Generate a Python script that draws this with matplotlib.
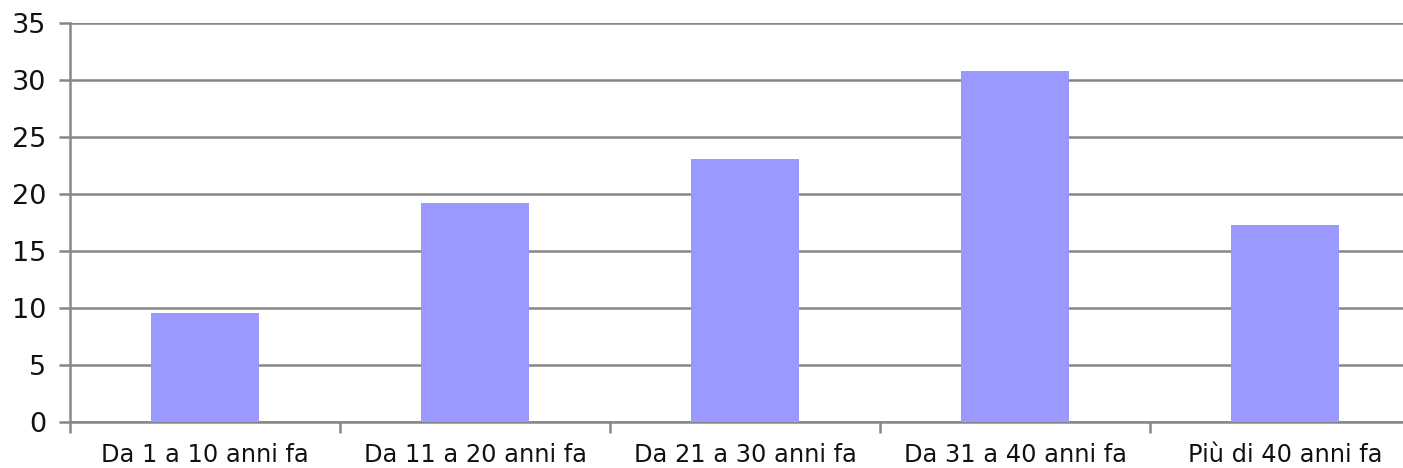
import matplotlib
matplotlib.use("Agg")
import matplotlib.pyplot as plt
import numpy as np

categories = ["Da 1 a 10 anni fa", "Da 11 a 20 anni fa", "Da 21 a 30 anni fa",
              "Da 31 a 40 anni fa", "Più di 40 anni fa"]
values = [9.6, 19.2, 23.1, 30.8, 17.3]
y_ticks = [0, 5, 10, 15, 20, 25, 30, 35]

W, H = 1403, 468
fig = plt.figure(figsize=(W / 100, H / 100), dpi=100)
ax = fig.add_axes([70 / W, (H - 422) / H, 1350 / W, 399 / H])

grid_color = "#878787"
x = np.arange(len(categories))
ax.bar(x, values, width=0.4, color="#9999FF", zorder=3)

ax.set_xlim(-0.5, len(categories) - 0.5)
ax.set_ylim(0, 35)
ax.set_yticks(y_ticks)
ax.yaxis.grid(True, color=grid_color, linewidth=1.8, zorder=0)

for side in ("top", "right"):
    ax.spines[side].set_visible(False)
for side in ("left", "bottom"):
    ax.spines[side].set_color(grid_color)
    ax.spines[side].set_linewidth(1.8)

# category labels centred under bars, tick marks on the boundaries
ax.set_xticks(np.arange(len(categories) + 1) - 0.5)
ax.set_xticklabels([])
ax.set_xticks(x, minor=True)
ax.set_xticklabels(categories, minor=True, fontsize=17.4, family="DejaVu Sans",
                   color="#111111")
ax.tick_params(axis="x", which="major", length=8, width=1.8, color=grid_color)
ax.tick_params(axis="x", which="minor", length=0, pad=15)
ax.tick_params(axis="y", length=8, width=1.8, color=grid_color, labelsize=19.5,
               pad=9, labelcolor="#111111")

fig.savefig("out.png", dpi=100, facecolor="white")
